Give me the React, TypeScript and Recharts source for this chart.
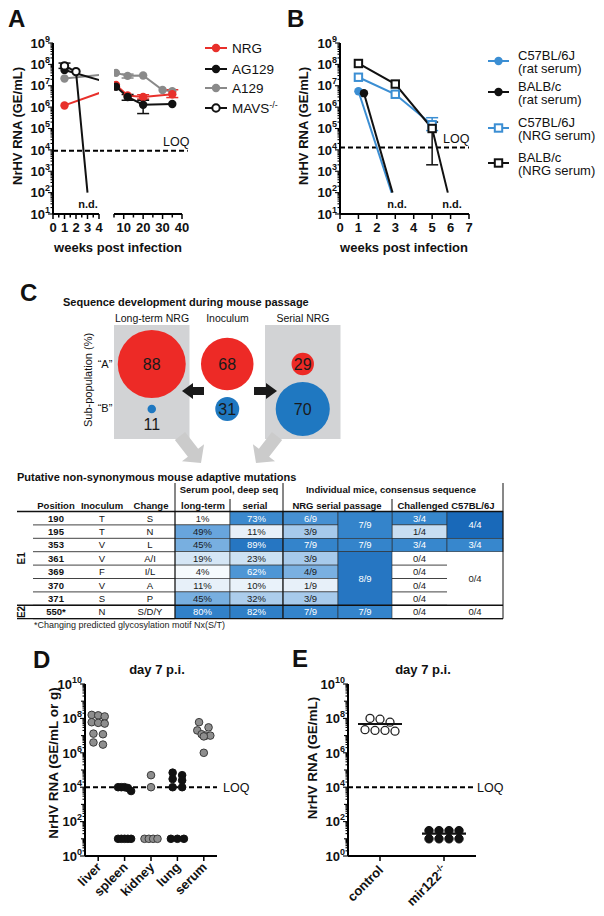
import React from "react";
import {
  LineChart,
  Line,
  XAxis,
  YAxis,
  ErrorBar,
  ReferenceLine,
  ScatterChart,
  Scatter,
  ZAxis,
  ReferenceArea,
} from "recharts";

const FONT = '"Liberation Sans", Arial, Helvetica, sans-serif';
const RED = "#e8302b";
const GREY = "#8a8a8a";
const BLUE = "#3b8ed3";
const INK = "#111111";
const ND = 100; // "n.d." is drawn at 10^2

type P = { w: number; v: number; e?: [number, number]; nd?: boolean };

// ---- A: viral RNA per mouse strain, weeks post infection
const A_NRG: P[] = [
  { w: 1, v: 1.2e6 },
  { w: 6, v: 1.1e7 },
  { w: 12, v: 3.5e6 },
  { w: 20, v: 3e6, e: [6e5, 8e5] },
  { w: 35, v: 4e6, e: [1.2e6, 2.5e6] },
];
const A_AG129: P[] = [
  { w: 1, v: 5.5e7 },
  { w: 6, v: 9e6 },
  { w: 12, v: 3e6, e: [9e5, 9e5] },
  { w: 20, v: 1.3e6, e: [8e5, 8e5] },
  { w: 35, v: 1.4e6 },
];
const A_A129: P[] = [
  { w: 1, v: 2.2e7 },
  { w: 6, v: 4e7 },
  { w: 12, v: 2.9e7, e: [6e6, 6e6] },
  { w: 20, v: 3e7 },
  { w: 30, v: 6.3e6 },
  { w: 35, v: 5.5e6 },
];
const A_MAVS: P[] = [
  { w: 1, v: 8.5e7, e: [2e7, 3e7] },
  { w: 2, v: 4.6e7 },
  { w: 3, v: ND, nd: true },
];
const LOQ_A = 9e3;
const A_LEFT_TICKS = [0, 0.5, 1, 1.5, 2, 2.5, 3, 3.5, 4];
const A_LEFT_LABELS = [0, 1, 2, 3, 4];
const A_RIGHT_TICKS = [5, 10, 15, 20, 25, 30, 35, 40];
const A_RIGHT_LABELS = [10, 20, 30, 40];

// ---- B: serum transfer
const B_C57_RAT: P[] = [
  { w: 1, v: 5.5e6 },
  { w: 2.8, v: ND, nd: true },
];
const B_BALB_RAT: P[] = [
  { w: 1.3, v: 4.5e6 },
  { w: 2.85, v: ND, nd: true },
];
const B_C57_NRG: P[] = [
  { w: 1, v: 2.5e7 },
  { w: 3, v: 4e6 },
  { w: 5, v: 1.5e5, e: [7e4, 1.7e5] },
];
const B_BALB_NRG: P[] = [
  { w: 1, v: 1.1e8 },
  { w: 3, v: 1.2e7 },
  { w: 5, v: 1e5, e: [9.8e4, 1e5] },
  { w: 5.85, v: ND, nd: true },
];
const LOQ_B = 1.3e4;
const B_TICKS = [0, 1, 2, 3, 4, 5, 6, 7];

// ---- C: sub-populations (%)
const C_GROUPS = ["Long-term NRG", "Inoculum", "Serial NRG"];
const C_POP_A = [88, 68, 29];
const C_POP_B = [11, 31, 70];

const MUT_POS = ["190", "195", "353", "361", "369", "370", "371", "550*"];
const MUT_INOC = ["T", "T", "V", "V", "F", "V", "S", "N"];
const MUT_CHANGE = ["S", "N", "L", "A/I", "I/L", "A", "P", "S/D/Y"];
const POOL_LONG = [1, 49, 45, 19, 4, 11, 45, 80];
const POOL_SERIAL = [73, 11, 89, 23, 62, 10, 32, 82];
const NRG_IND = ["6/9", "3/9", "7/9", "3/9", "4/9", "1/9", "3/9", "7/9"];
const NRG_POOL: [string, number, number][] = [
  ["7/9", 0, 1],
  ["7/9", 2, 2],
  ["8/9", 3, 6],
  ["7/9", 7, 7],
];
const CH_IND = ["3/4", "1/4", "3/4", "0/4", "0/4", "0/4", "0/4", "0/4"];
const CH_POOL: [string, number, number][] = [
  ["4/4", 0, 1],
  ["3/4", 2, 2],
  ["0/4", 3, 6],
  ["0/4", 7, 7],
];

// ---- D: organs day 7
const D_ORGANS = ["liver", "spleen", "kidney", "lung", "serum"];
const D_LIVER = [1.6e8, 1.5e8, 1.3e8, 6e7, 5.5e7, 5e7, 1.3e7, 1.2e7, 4e6, 3e6];
const D_SPLEEN = [1e4, 1e4, 1e4, 9e3, 6e3, 10, 10, 10, 10, 10];
const D_KIDNEY = [5e4, 1e4, 10, 10, 10, 10];
const D_LUNG = [7e4, 5e4, 3e4, 2.5e4, 1e4, 1e4, 10, 10, 10];
const D_SERUM = [6e7, 3e7, 2e7, 1.2e7, 1e7, 1e7, 9e6, 1e6];
const LOQ_D = 1e4;

// ---- E: mir122
const E_GROUPS = ["control", "mir122"];
const E_SUP = ["", "-/-"];
const E_CONTROL = [1e8, 9e7, 6e7, 2.2e7, 2e7, 2e7, 1.8e7];
const E_MIR122 = [30, 30, 30, 30, 10, 10, 10, 10];

// ---------------------------------------------------------------

const logTicks = (lo: number, hi: number) => {
  const t: number[] = [];
  for (let k = lo; k < hi; k++) for (let m = 1; m <= 9; m++) t.push(m * Math.pow(10, k));
  t.push(Math.pow(10, hi));
  return t;
};

const YTick = (props: any) => {
  const { x, y, payload, every = 1 } = props;
  const e = Math.log10(payload.value);
  const k = Math.round(e);
  const dec = Math.abs(e - k) < 1e-6;
  const lab = dec && k % every === 0;
  const len = lab ? 5 : dec ? 4 : 2.5;
  return (
    <g>
      <line x1={x} x2={x - len} y1={y} y2={y} stroke="#000" strokeWidth={1.1} />
      {lab && (
        <text x={x - 3} y={y + 4.7} textAnchor="end" fontSize={13} fontWeight="bold" fontFamily={FONT} fill="#111">
          10<tspan dy={-6} fontSize={9}>{k}</tspan>
        </text>
      )}
    </g>
  );
};

const XTick = (props: any) => {
  const { x, y, payload, labels } = props;
  const v = payload.value;
  const major = labels.includes(v);
  return (
    <g>
      <line x1={x} x2={x} y1={y} y2={y + (major ? 5 : 3.5)} stroke="#000" strokeWidth={1.5} />
      {major && (
        <text x={x} y={y + 17.5} textAnchor="middle" fontSize={13} fontWeight="bold" fontFamily={FONT} fill="#111">
          {v}
        </text>
      )}
    </g>
  );
};

const CatTick = (props: any) => {
  const { x, y, payload, names, sups, dx = 4, dy = 11 } = props;
  const i = payload.value;
  return (
    <g>
      <line x1={x} x2={x} y1={y} y2={y + 5} stroke="#000" strokeWidth={1.5} />
      <text
        transform={`translate(${x + dx},${y + dy}) rotate(-45)`}
        textAnchor="end"
        fontSize={13}
        fontWeight="bold"
        fontFamily={FONT}
        fill="#111"
      >
        {names[i]}
        {sups && sups[i] ? (
          <tspan dy={-5} fontSize={9}>
            {sups[i]}
          </tspan>
        ) : null}
      </text>
    </g>
  );
};

function marker(mk: string, color: string, cx: number, cy: number, key?: any) {
  if (mk === "disc") return <circle key={key} cx={cx} cy={cy} r={4.2} fill={color} />;
  if (mk === "ring") return <circle key={key} cx={cx} cy={cy} r={3.7} fill="#fff" stroke={color} strokeWidth={2} />;
  return <rect key={key} x={cx - 3.7} y={cy - 3.7} width={7.4} height={7.4} fill="#fff" stroke={color} strokeWidth={2} />;
}

const dotFn = (mk: string, color: string, lo: number, hi: number) => (p: any) => {
  const w = p.payload?.w;
  if (p.payload?.nd || w < lo || w > hi || !Number.isFinite(p.cx)) return <g key={p.index} />;
  return marker(mk, color, p.cx, p.cy, p.index);
};

// axis break in A: each half gets the points on its side plus the first one over the break
const leftPart = (d: P[]) => {
  const out: P[] = [];
  for (const p of d) {
    if (p.w <= 4) out.push(p);
    else {
      out.push({ w: p.w, v: p.v });
      break;
    }
  }
  return out;
};
const rightPart = (d: P[]) => {
  const i = d.findIndex((p) => p.w >= 5);
  if (i < 0) return [];
  return [...(i > 0 ? [{ w: d[i - 1].w, v: d[i - 1].v }] : []), ...d.slice(i)];
};

const A_SERIES = [
  { name: "NRG", sup: "", data: A_NRG, color: RED, mk: "disc" },
  { name: "AG129", sup: "", data: A_AG129, color: INK, mk: "disc" },
  { name: "A129", sup: "", data: A_A129, color: GREY, mk: "disc" },
  { name: "MAVS", sup: "-/-", data: A_MAVS, color: INK, mk: "ring" },
];
const A_DRAW = [A_SERIES[2], A_SERIES[0], A_SERIES[1], A_SERIES[3]];

const B_SERIES = [
  { l1: "C57BL/6J", l2: "(rat serum)", data: B_C57_RAT, color: BLUE, mk: "disc" },
  { l1: "BALB/c", l2: "(rat serum)", data: B_BALB_RAT, color: INK, mk: "disc" },
  { l1: "C57BL/6J", l2: "(NRG serum)", data: B_C57_NRG, color: BLUE, mk: "square" },
  { l1: "BALB/c", l2: "(NRG serum)", data: B_BALB_NRG, color: INK, mk: "square" },
];

const AX = { stroke: "#000", strokeWidth: 2 };
const abs = (left: number, top: number): React.CSSProperties => ({ position: "absolute", left, top });

function PanelA() {
  const yt = logTicks(1, 9);
  return (
    <>
      <div style={abs(0, 0)}>
        <LineChart width={105} height={262} margin={{ top: 43, right: 6, bottom: 0, left: 0 }}>
          <XAxis
            type="number"
            dataKey="w"
            domain={[0, 4]}
            ticks={A_LEFT_TICKS}
            interval={0}
            allowDataOverflow
            axisLine={AX}
            tickLine={false}
            tickSize={0}
            tickMargin={0}
            tick={<XTick labels={A_LEFT_LABELS} />}
            height={48}
          />
          <YAxis
            type="number"
            scale="log"
            domain={[10, 1e9]}
            ticks={yt}
            interval={0}
            allowDataOverflow
            axisLine={AX}
            tickLine={false}
            tickSize={0}
            tickMargin={0}
            tick={<YTick every={1} />}
            width={53}
          />
          <ReferenceLine y={LOQ_A} stroke="#000" strokeWidth={2} strokeDasharray="5 3" />
          {A_DRAW.map((s) => (
            <Line
              key={s.name}
              data={leftPart(s.data)}
              dataKey="v"
              type="linear"
              stroke={s.color}
              strokeWidth={2}
              dot={dotFn(s.mk, s.color, 0, 4)}
              activeDot={false}
              isAnimationActive={false}
            >
              <ErrorBar dataKey="e" direction="y" width={6} stroke={s.color} strokeWidth={1.5} />
            </Line>
          ))}
        </LineChart>
      </div>
      <div style={abs(100, 0)}>
        <LineChart width={100} height={262} margin={{ top: 43, right: 18, bottom: 0, left: 14 }}>
          <XAxis
            type="number"
            dataKey="w"
            domain={[5, 40]}
            ticks={A_RIGHT_TICKS}
            interval={0}
            allowDataOverflow
            axisLine={AX}
            tickLine={false}
            tickSize={0}
            tickMargin={0}
            tick={<XTick labels={A_RIGHT_LABELS} />}
            height={48}
          />
          <YAxis type="number" scale="log" domain={[10, 1e9]} allowDataOverflow hide />
          <ReferenceLine
            segment={[
              { x: -2.7, y: LOQ_A },
              { x: 43, y: LOQ_A },
            ]}
            ifOverflow="visible"
            stroke="#000"
            strokeWidth={2}
            strokeDasharray="5 3"
          />
          {A_DRAW.filter((s) => rightPart(s.data).length > 0).map((s) => (
            <Line
              key={s.name}
              data={rightPart(s.data)}
              dataKey="v"
              type="linear"
              stroke={s.color}
              strokeWidth={2}
              dot={dotFn(s.mk, s.color, 5, 40)}
              activeDot={false}
              isAnimationActive={false}
            >
              <ErrorBar dataKey="e" direction="y" width={6} stroke={s.color} strokeWidth={1.5} />
            </Line>
          ))}
        </LineChart>
      </div>
    </>
  );
}

function PanelB() {
  return (
    <div style={abs(285, 0)}>
      <LineChart width={200} height={262} margin={{ top: 43, right: 16, bottom: 0, left: 0 }}>
        <XAxis
          type="number"
          dataKey="w"
          domain={[0, 7]}
          ticks={B_TICKS}
          interval={0}
          allowDataOverflow
          axisLine={AX}
          tickLine={false}
          tickSize={0}
          tickMargin={0}
          tick={<XTick labels={B_TICKS} />}
          height={48}
        />
        <YAxis
          type="number"
          scale="log"
          domain={[10, 1e9]}
          ticks={logTicks(1, 9)}
          interval={0}
          allowDataOverflow
          axisLine={AX}
          tickLine={false}
          tickSize={0}
          tickMargin={0}
          tick={<YTick every={1} />}
          width={55}
        />
        <ReferenceLine y={LOQ_B} stroke="#000" strokeWidth={2} strokeDasharray="5 3" />
        {B_SERIES.map((s, i) => (
          <Line
            key={i}
            data={s.data}
            dataKey="v"
            type="linear"
            stroke={s.color}
            strokeWidth={2}
            dot={dotFn(s.mk, s.color, 0, 7)}
            activeDot={false}
            isAnimationActive={false}
          >
            <ErrorBar dataKey="e" direction="y" width={6} stroke={s.color} strokeWidth={1.5} />
          </Line>
        ))}
      </LineChart>
    </div>
  );
}

function PanelCBubbles() {
  const rows = (vals: number[], y: number) => vals.map((v, i) => ({ x: i, y, v, z: v * v }));
  const shape = (fill: string) => (p: any) => {
    const r = p.width / 2;
    const small = r < 8;
    return (
      <g>
        <circle cx={p.cx} cy={p.cy} r={r} fill={fill} />
        <text
          x={p.cx}
          y={small ? p.cy + 21 : p.cy + 6}
          textAnchor="middle"
          fontSize={16}
          fontFamily={FONT}
          fill="#1a1a1a"
        >
          {p.payload.v}
        </text>
      </g>
    );
  };
  return (
    <div style={abs(60, 320)}>
      <ScatterChart width={300} height={125} margin={{ top: 5, right: 19.5, bottom: 6, left: 54 }}>
        <XAxis type="number" dataKey="x" domain={[-0.5, 2.5]} hide />
        <YAxis type="number" dataKey="y" domain={[-0.667, 1.867]} hide />
        <ZAxis type="number" dataKey="z" domain={[0, 7744]} range={[0, 3632]} />
        <ReferenceArea x1={-0.5} x2={0.5} fill="#d2d3d5" fillOpacity={1} stroke="none" />
        <ReferenceArea x1={1.5} x2={2.5} fill="#d2d3d5" fillOpacity={1} stroke="none" />
        <Scatter data={rows(C_POP_A, 1)} shape={shape("#ed2a26")} isAnimationActive={false} />
        <Scatter data={rows(C_POP_B, 0)} shape={shape("#1f78c1")} isAnimationActive={false} />
      </ScatterChart>
    </div>
  );
}

// rows of nearly equal values are spread sideways, like a scatter dot plot
function swarm(vals: number[], pxDec: number, step: number, maxW: number, thr: number) {
  const order = vals.map((_, i) => i).sort((a, b) => vals[b] - vals[a]);
  const out = new Array(vals.length).fill(0);
  let row: number[] = [];
  let top = 0;
  const flush = () => {
    const n = row.length;
    const s = n > 1 ? Math.min(step, maxW / (n - 1)) : 0;
    row.forEach((i, k) => (out[i] = (k - (n - 1) / 2) * s));
    row = [];
  };
  order.forEach((i) => {
    const y = Math.log10(vals[i]) * pxDec;
    if (row.length && top - y > thr) flush();
    if (!row.length) top = y;
    row.push(i);
  });
  flush();
  return out;
}

const dotShape = (fill: string, stroke: string, r: number, sw: number) => (p: any) => (
  <circle cx={p.cx} cy={p.cy} r={r} fill={fill} stroke={stroke} strokeWidth={sw} />
);

function PanelD() {
  const groups = [D_LIVER, D_SPLEEN, D_KIDNEY, D_LUNG, D_SERUM];
  const fills = ["#8e8e8e", INK, "#8e8e8e", INK, "#8e8e8e"];
  const pxDec = 172 / 10;
  const band = 132 / 5;
  return (
    <div style={abs(30, 640)}>
      <ScatterChart width={235} height={275} margin={{ top: 44, right: 48, bottom: 0, left: 0 }}>
        <XAxis
          type="number"
          dataKey="x"
          domain={[-0.5, 4.5]}
          ticks={[0, 1, 2, 3, 4]}
          interval={0}
          axisLine={AX}
          tickLine={false}
          tickSize={0}
          tickMargin={0}
          tick={<CatTick names={D_ORGANS} dx={4} dy={12} />}
          height={59}
        />
        <YAxis
          type="number"
          dataKey="y"
          scale="log"
          domain={[1, 1e10]}
          ticks={logTicks(0, 10)}
          interval={0}
          allowDataOverflow
          axisLine={AX}
          tickLine={false}
          tickSize={0}
          tickMargin={0}
          tick={<YTick every={2} />}
          width={55}
        />
        <ReferenceLine y={LOQ_D} stroke="#000" strokeWidth={2} strokeDasharray="5 3" />
        {groups.map((vals, gi) => {
          const off = swarm(vals, pxDec, 9.5, 13, 5.5);
          const data = vals.map((v, i) => ({ x: gi + off[i] / band, y: v }));
          return (
            <Scatter
              key={gi}
              data={data}
              shape={dotShape(fills[gi], fills[gi] === INK ? INK : "#3a3a3a", 3.8, 1)}
              isAnimationActive={false}
            />
          );
        })}
      </ScatterChart>
    </div>
  );
}

function PanelE() {
  const groups = [E_CONTROL, E_MIR122];
  const pxDec = 172 / 10;
  const band = 128 / 2;
  const means = groups.map((g, i) => ({ x: i, y: g.reduce((a, b) => a + b, 0) / g.length }));
  return (
    <div style={abs(290, 640)}>
      <ScatterChart width={225} height={275} margin={{ top: 44, right: 39, bottom: 0, left: 0 }}>
        <XAxis
          type="number"
          dataKey="x"
          domain={[-0.5, 1.5]}
          ticks={[0, 1]}
          interval={0}
          axisLine={AX}
          tickLine={false}
          tickSize={0}
          tickMargin={0}
          tick={<CatTick names={E_GROUPS} sups={E_SUP} dx={4} dy={15} />}
          height={59}
        />
        <YAxis
          type="number"
          dataKey="y"
          scale="log"
          domain={[1, 1e10]}
          ticks={logTicks(0, 10)}
          interval={0}
          allowDataOverflow
          axisLine={AX}
          tickLine={false}
          tickSize={0}
          tickMargin={0}
          tick={<YTick every={2} />}
          width={58}
        />
        <ReferenceLine y={LOQ_D} stroke="#000" strokeWidth={2} strokeDasharray="5 3" />
        {groups.map((vals, gi) => {
          const off = swarm(vals, pxDec, 10, 32, 5.5);
          const data = vals.map((v, i) => ({ x: gi + off[i] / band, y: v }));
          return (
            <Scatter
              key={gi}
              data={data}
              shape={gi === 0 ? dotShape("#fff", "#222", 4, 1.3) : dotShape(INK, INK, 4.2, 1)}
              isAnimationActive={false}
            />
          );
        })}
        <Scatter
          data={means}
          shape={(p: any) => <line x1={p.cx - 22} x2={p.cx + 22} y1={p.cy} y2={p.cy} stroke="#111" strokeWidth={2.2} />}
          isAnimationActive={false}
        />
      </ScatterChart>
    </div>
  );
}

// ---- heat colour for the table
const STOPS: [number, number[]][] = [
  [0, [255, 255, 255]],
  [0.25, [200, 222, 242]],
  [0.5, [100, 163, 220]],
  [0.75, [55, 135, 205]],
  [1, [25, 105, 185]],
];
function heat(f: number) {
  const t = Math.max(0, Math.min(1, f));
  for (let i = 1; i < STOPS.length; i++) {
    const [t1, c1] = STOPS[i];
    const [t0, c0] = STOPS[i - 1];
    if (t <= t1) {
      const u = (t - t0) / (t1 - t0);
      const c = c0.map((a, k) => Math.round(a + (c1[k] - a) * u));
      return `rgb(${c.join(",")})`;
    }
  }
  return "rgb(25,105,185)";
}
const frac = (s: string) => {
  const [a, b] = s.split("/").map(Number);
  return a / b;
};

function Table() {
  const R0 = 511.5;
  const RH = 13.4;
  const rowY = (i: number) => R0 + i * RH;
  const cell = (x0: number, x1: number, r0: number, r1: number, label: string, f: number, key: string) => {
    const y0 = rowY(r0);
    const y1 = rowY(r1 + 1);
    return (
      <g key={key}>
        {f > 0 ? (
          <rect x={x0} y={y0} width={x1 - x0} height={y1 - y0} fill={heat(f)} stroke="#2c2c2c" strokeWidth={0.6} />
        ) : (
          r0 === r1 && <line x1={x0} x2={x1} y1={y1} y2={y1} stroke="#111" strokeWidth={0.8} />
        )}
        <text
          x={(x0 + x1) / 2}
          y={(y0 + y1) / 2 + 3.4}
          textAnchor="middle"
          fontSize={9.5}
          fill={f > 0.55 ? "#fff" : "#1a1a1a"}
        >
          {label}
        </text>
      </g>
    );
  };
  const fs = 9.5;
  return (
    <g fontFamily={FONT}>
      <text x={17} y={481} fontSize={11} fontWeight="bold" fill="#111">
        Putative non-synonymous mouse adaptive mutations
      </text>
      <text x={229} y={493} fontSize={fs} fontWeight="bold" textAnchor="middle" fill="#111">
        Serum pool, deep seq
      </text>
      <text x={391} y={493} fontSize={fs} fontWeight="bold" textAnchor="middle" fill="#111">
        Individual mice, consensus sequence
      </text>
      {[
        ["Position", 56],
        ["Inoculum", 102],
        ["Change", 151],
        ["long-term", 203],
        ["serial", 255],
        ["NRG serial passage", 337],
        ["Challenged C57BL/6J", 446],
      ].map(([t, x]) => (
        <text key={t as string} x={x as number} y={509} fontSize={fs} fontWeight="bold" textAnchor="middle" fill="#111">
          {t}
        </text>
      ))}
      {MUT_POS.map((p, i) => {
        const cy = rowY(i) + RH / 2 + 3.4;
        return (
          <g key={p}>
            <line x1={33} x2={175} y1={rowY(i + 1)} y2={rowY(i + 1)} stroke="#111" strokeWidth={0.8} />
            <text x={56} y={cy} fontSize={fs} fontWeight="bold" textAnchor="middle" fill="#111">
              {p}
            </text>
            <text x={102} y={cy} fontSize={fs} textAnchor="middle" fill="#111">
              {MUT_INOC[i]}
            </text>
            <text x={150} y={cy} fontSize={fs} textAnchor="middle" fill="#111">
              {MUT_CHANGE[i]}
            </text>
            {cell(175, 230, i, i, `${POOL_LONG[i]}%`, POOL_LONG[i] / 100, "lt" + i)}
            {cell(230, 283, i, i, `${POOL_SERIAL[i]}%`, POOL_SERIAL[i] / 100, "se" + i)}
            {cell(283, 338, i, i, NRG_IND[i], frac(NRG_IND[i]), "ni" + i)}
            {cell(392, 447, i, i, CH_IND[i], frac(CH_IND[i]), "ci" + i)}
          </g>
        );
      })}
      {NRG_POOL.map(([t, a, b], k) => cell(338, 392, a, b, t, frac(t), "np" + k))}
      {CH_POOL.map(([t, a, b], k) => cell(447, 503, a, b, t, frac(t), "cp" + k))}
      <line x1={17} x2={503} y1={R0} y2={R0} stroke="#111" strokeWidth={1.6} />
      <line x1={17} x2={503} y1={rowY(7)} y2={rowY(7)} stroke="#111" strokeWidth={1.6} />
      <line x1={17} x2={503} y1={rowY(8)} y2={rowY(8)} stroke="#111" strokeWidth={1.2} />
      {[175, 283, 503].map((x) => (
        <line key={x} x1={x} x2={x} y1={483} y2={rowY(8)} stroke="#111" strokeWidth={1} />
      ))}
      {[230, 392].map((x) => (
        <line key={x} x1={x} x2={x} y1={499} y2={R0} stroke="#111" strokeWidth={1} />
      ))}
      <text transform={`translate(25,${rowY(3.5)}) rotate(-90)`} textAnchor="middle" fontSize={10} fontWeight="bold" fill="#111">
        E1
      </text>
      <text transform={`translate(25,${rowY(7.5)}) rotate(-90)`} textAnchor="middle" fontSize={10} fontWeight="bold" fill="#111">
        E2
      </text>
      <text x={34} y={628} fontSize={9} fill="#222">
        *Changing predicted glycosylation motif Nx(S/T)
      </text>
    </g>
  );
}

function arrowPts(x0: number, y0: number, x1: number, y1: number, sw: number, hw: number, hl: number) {
  const dx = x1 - x0;
  const dy = y1 - y0;
  const L = Math.hypot(dx, dy);
  const ux = dx / L;
  const uy = dy / L;
  const nx = -uy;
  const ny = ux;
  const bx = x1 - ux * hl;
  const by = y1 - uy * hl;
  const pts = [
    [x0 + (nx * sw) / 2, y0 + (ny * sw) / 2],
    [bx + (nx * sw) / 2, by + (ny * sw) / 2],
    [bx + (nx * hw) / 2, by + (ny * hw) / 2],
    [x1, y1],
    [bx - (nx * hw) / 2, by - (ny * hw) / 2],
    [bx - (nx * sw) / 2, by - (ny * sw) / 2],
    [x0 - (nx * sw) / 2, y0 - (ny * sw) / 2],
  ];
  return pts.map((p) => p.join(",")).join(" ");
}

function Overlay() {
  const T = (p: any) => <text fontFamily={FONT} fill="#111" {...p} />;
  const aLegY = [48, 69, 88, 108];
  const bLegY = [61, 92, 128, 163];
  return (
    <svg width={604} height={916} style={{ position: "absolute", left: 0, top: 0, pointerEvents: "none" }}>
      {/* panel letters */}
      <T x={8} y={27} fontSize={24} fontWeight="bold">A</T>
      <T x={287} y={27} fontSize={24} fontWeight="bold">B</T>
      <T x={20} y={301} fontSize={24} fontWeight="bold">C</T>
      <T x={33} y={668} fontSize={24} fontWeight="bold">D</T>
      <T x={292} y={667} fontSize={24} fontWeight="bold">E</T>

      {/* A */}
      <T transform="translate(17,126) rotate(-90)" textAnchor="middle" dominantBaseline="central" fontSize={13} fontWeight="bold">
        NrHV RNA (GE/mL)
      </T>
      <T x={118} y={252} textAnchor="middle" fontSize={13} fontWeight="bold">weeks post infection</T>
      <T x={88} y={208} textAnchor="middle" fontSize={11} fontWeight="bold">n.d.</T>
      <T x={163} y={146} fontSize={12.5}>LOQ</T>
      {A_SERIES.map((s, i) => (
        <g key={s.name}>
          <line x1={205} x2={227} y1={aLegY[i]} y2={aLegY[i]} stroke={s.color} strokeWidth={2} />
          {marker(s.mk, s.color, 216, aLegY[i])}
          <T x={232} y={aLegY[i] + 4.7} fontSize={13.5}>
            {s.name}
            {s.sup ? <tspan dy={-5} fontSize={9}>{s.sup}</tspan> : null}
          </T>
        </g>
      ))}

      {/* B */}
      <T transform="translate(303,126) rotate(-90)" textAnchor="middle" dominantBaseline="central" fontSize={13} fontWeight="bold">
        NrHV RNA (GE/mL)
      </T>
      <T x={404} y={252} textAnchor="middle" fontSize={13} fontWeight="bold">weeks post infection</T>
      <T x={397} y={208} textAnchor="middle" fontSize={11} fontWeight="bold">n.d.</T>
      <T x={452} y={208} textAnchor="middle" fontSize={11} fontWeight="bold">n.d.</T>
      <T x={443} y={142.5} fontSize={12.5}>LOQ</T>
      {B_SERIES.map((s, i) => (
        <g key={i}>
          <line x1={488} x2={509} y1={bLegY[i]} y2={bLegY[i]} stroke={s.color} strokeWidth={2} />
          {marker(s.mk, s.color, 498.5, bLegY[i])}
          <T x={518} y={bLegY[i] - 1.5} fontSize={13}>{s.l1}</T>
          <T x={518} y={bLegY[i] + 12} fontSize={13}>{s.l2}</T>
        </g>
      ))}

      {/* C */}
      <T x={63} y={306} fontSize={11} fontWeight="bold">Sequence development during mouse passage</T>
      {C_GROUPS.map((g, i) => (
        <T key={g} x={152 + i * 75.5} y={322} textAnchor="middle" fontSize={10.5}>
          {g}
        </T>
      ))}
      <T transform="translate(88,380) rotate(-90)" textAnchor="middle" dominantBaseline="central" fontSize={11}>
        Sub-population (%)
      </T>
      <T x={105} y={368} textAnchor="middle" fontSize={11}>“A”</T>
      <T x={105} y={412} textAnchor="middle" fontSize={11}>“B”</T>
      <polygon points={arrowPts(204, 391, 182, 391, 8, 16, 11)} fill="#1a1a1a" />
      <polygon points={arrowPts(254, 391, 277, 391, 8, 16, 11)} fill="#1a1a1a" />
      <polygon points={arrowPts(180, 436, 201, 463, 13, 28, 13)} fill="#cbcbcb" />
      <polygon points={arrowPts(277, 436, 256, 463, 13, 28, 13)} fill="#cbcbcb" />

      <Table />

      {/* D */}
      <T x={157} y={674} textAnchor="middle" fontSize={13} fontWeight="bold">day 7 p.i.</T>
      <T transform="translate(53,763) rotate(-90)" textAnchor="middle" dominantBaseline="central" fontSize={13.5} fontWeight="bold">
        NrHV RNA (GE/mL or g)
      </T>
      <T x={223} y={791.5} fontSize={12.5}>LOQ</T>

      {/* E */}
      <T x={423} y={674} textAnchor="middle" fontSize={13} fontWeight="bold">day 7 p.i.</T>
      <T transform="translate(312,758) rotate(-90)" textAnchor="middle" dominantBaseline="central" fontSize={13.5} fontWeight="bold">
        NrHV RNA (GE/mL)
      </T>
      <T x={477} y={791.5} fontSize={12.5}>LOQ</T>
    </svg>
  );
}

export default function App() {
  return (
    <div
      style={{
        position: "absolute",
        left: 0,
        top: 0,
        width: 604,
        height: 916,
        background: "#fff",
        fontFamily: FONT,
        overflow: "hidden",
      }}
    >
      <PanelA />
      <PanelB />
      <PanelCBubbles />
      <PanelD />
      <PanelE />
      <Overlay />
    </div>
  );
}
